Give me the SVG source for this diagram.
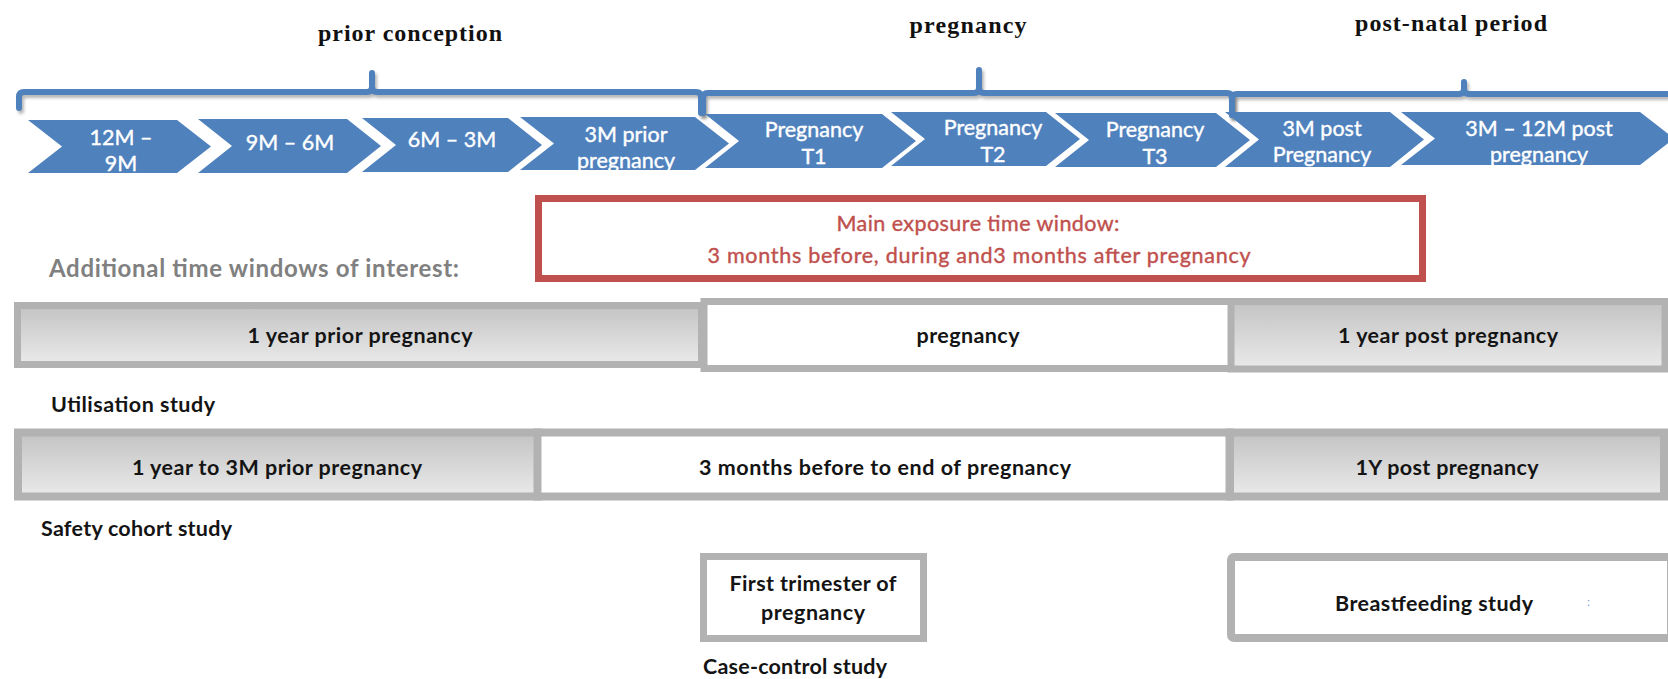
<svg xmlns="http://www.w3.org/2000/svg" width="1668" height="679" viewBox="0 0 1668 679">
<defs>
  <linearGradient id="grayGrad" x1="0" y1="0" x2="0" y2="1">
    <stop offset="0" stop-color="#C3C3C3"/>
    <stop offset="1" stop-color="#EAEAEA"/>
  </linearGradient>
  <filter id="blur" x="-5%" y="-50%" width="110%" height="200%">
    <feGaussianBlur stdDeviation="1.5"/>
  </filter>
  <clipPath id="chevClip">
    <polygon points="0,0 1668,0 1668,166 0,174"/>
  </clipPath>
</defs>
<style>
  .chev{fill:#4F81BD}
  .ct{font-family:Lato,'Liberation Sans',sans-serif;font-size:21.5px;fill:#FFFFFF;stroke:#FFFFFF;stroke-width:0.4;text-anchor:middle}
  .title{font-family:'Liberation Serif',serif;font-weight:bold;font-size:24px;fill:#111111;text-anchor:middle}
  .br{fill:none;stroke:#4F81BD;stroke-width:6;stroke-linecap:round;stroke-linejoin:round}
  .brs{fill:none;stroke:#000000;stroke-opacity:0.28;stroke-width:6;stroke-linecap:round;stroke-linejoin:round;filter:url(#blur)}
  .gbox{fill:url(#grayGrad);stroke:#B2B2B2}
  .wbox{fill:#FFFFFF;stroke:#B2B2B2}
  .bt{font-family:Lato,'Liberation Sans',sans-serif;font-weight:bold;font-size:21.5px;fill:#141414;text-anchor:middle}
  .lbl{font-family:Lato,'Liberation Sans',sans-serif;font-weight:bold;font-size:21.5px;fill:#141414}
  .red{font-family:Lato,'Liberation Sans',sans-serif;font-size:21.5px;fill:#C0504D;stroke:#C0504D;stroke-width:0.4;text-anchor:middle}
  .gray{font-family:Lato,'Liberation Sans',sans-serif;font-weight:bold;font-size:24px;fill:#808080}
</style>
<rect width="1668" height="679" fill="#FFFFFF"/>

<!-- titles -->
<g id="title-prior">
  <text class="title" x="410" y="41" textLength="184">prior conception</text>
</g>
<g id="title-pregnancy">
  <text class="title" x="968" y="33" textLength="117">pregnancy</text>
</g>
<g id="title-postnatal">
  <text class="title" x="1451" y="31" textLength="192">post-natal period</text>
</g>

<!-- brackets -->
<g id="brackets">
  <path class="brs" d="M21,111 V100 Q21,95 26,95 H369 Q374,95 374,90 V76 M374,90 Q374,95 379,95 H698 Q703,95 703,100 V116"/>
  <path class="brs" d="M705,116 V101 Q705,96 710,96 H976 Q981,96 981,91 V73 M981,91 Q981,96 986,96 H1229 Q1234,96 1234,101 V118"/>
  <path class="brs" d="M1234,118 V102 Q1234,97 1239,97 H1461 Q1466,97 1466,92 V85 M1466,92 Q1466,97 1471,97 H1670"/>
  <path class="br" d="M19,108 V97 Q19,92 24,92 H367 Q372,92 372,87 V73 M372,87 Q372,92 377,92 H696 Q701,92 701,97 V113"/>
  <path class="br" d="M703,113 V98 Q703,93 708,93 H974 Q979,93 979,88 V70 M979,88 Q979,93 984,93 H1227 Q1232,93 1232,98 V115"/>
  <path class="br" d="M1232,115 V99 Q1232,94 1237,94 H1459 Q1464,94 1464,89 V82 M1464,89 Q1464,94 1469,94 H1670"/>
</g>

<!-- chevrons -->
<g id="chev-1">
  <polygon class="chev" points="28,120 177,120 211,146.5 177,173 28,173 62,146.5"/>
  <g clip-path="url(#chevClip)"><text class="ct" x="121" y="145">12M –</text><text class="ct" x="121" y="171">9M</text></g>
</g>
<g id="chev-2">
  <polygon class="chev" points="198,119 347,119 381,146 347,173 198,173 232,146"/>
  <text class="ct" x="290" y="150">9M – 6M</text>
</g>
<g id="chev-3">
  <polygon class="chev" points="362,118 508,118 542,145 508,172 362,172 396,145"/>
  <text class="ct" x="452" y="147">6M – 3M</text>
</g>
<g id="chev-4">
  <polygon class="chev" points="520,117 695,117 729,143.5 695,170 520,170 554,143.5"/>
  <g clip-path="url(#chevClip)"><text class="ct" x="626" y="142">3M prior</text><text class="ct" x="626" y="168">pregnancy</text></g>
</g>
<g id="chev-5">
  <polygon class="chev" points="705,114 882,114 916,141 882,168 705,168 739,141"/>
  <g clip-path="url(#chevClip)"><text class="ct" x="814" y="137">Pregnancy</text><text class="ct" x="814" y="164">T1</text></g>
</g>
<g id="chev-6">
  <polygon class="chev" points="891,112 1046,112 1080,139 1046,166 891,166 925,139"/>
  <g clip-path="url(#chevClip)"><text class="ct" x="993" y="135">Pregnancy</text><text class="ct" x="993" y="162">T2</text></g>
</g>
<g id="chev-7">
  <polygon class="chev" points="1055,113 1216,113 1250,140 1216,167 1055,167 1089,140"/>
  <g clip-path="url(#chevClip)"><text class="ct" x="1155" y="137">Pregnancy</text><text class="ct" x="1155" y="164">T3</text></g>
</g>
<g id="chev-8">
  <polygon class="chev" points="1225,112 1390,112 1424,139.5 1390,167 1225,167 1259,139.5"/>
  <g clip-path="url(#chevClip)"><text class="ct" x="1322" y="136">3M post</text><text class="ct" x="1322" y="162">Pregnancy</text></g>
</g>
<g id="chev-9">
  <polygon class="chev" points="1401,112 1640,112 1674,138.5 1640,165 1401,165 1435,138.5"/>
  <g clip-path="url(#chevClip)"><text class="ct" x="1539" y="136">3M – 12M post</text><text class="ct" x="1539" y="162">pregnancy</text></g>
</g>

<!-- main exposure window -->
<g id="main-window">
  <rect x="538.5" y="198.5" width="884" height="80" fill="#FFFFFF" stroke="#C0504D" stroke-width="7"/>
  <text class="red" x="978" y="231" textLength="283">Main exposure time window:</text>
  <text class="red" x="979" y="263" textLength="543">3 months before, during and3 months after pregnancy</text>
</g>

<g id="additional-label">
  <text class="gray" x="49" y="277" textLength="410">Additional time windows of interest:</text>
</g>

<!-- utilisation row -->
<g id="util-prior">
  <rect class="gbox" x="17.5" y="305.5" width="684" height="59" stroke-width="7"/>
  <text class="bt" x="360" y="343" textLength="225">1 year prior pregnancy</text>
</g>
<g id="util-pregnancy">
  <rect class="wbox" x="704" y="301.5" width="528" height="67" stroke-width="7"/>
  <text class="bt" x="968" y="343" textLength="103">pregnancy</text>
</g>
<g id="util-post">
  <rect class="gbox" x="1231" y="301.5" width="434" height="67.5" stroke-width="7"/>
  <text class="bt" x="1448" y="343" textLength="220">1 year post pregnancy</text>
</g>
<g id="util-label">
  <text class="lbl" x="51" y="412" textLength="164">Utilisation study</text>
</g>

<!-- safety cohort row -->
<g id="safety-prior">
  <rect class="gbox" x="18" y="432.5" width="520" height="64" stroke-width="8"/>
  <text class="bt" x="277" y="475" textLength="290">1 year to 3M prior pregnancy</text>
</g>
<g id="safety-pregnancy">
  <rect class="wbox" x="537.5" y="432.5" width="692" height="64" stroke-width="8"/>
  <text class="bt" x="885" y="475" textLength="372">3 months before to end of pregnancy</text>
</g>
<g id="safety-post">
  <rect class="gbox" x="1230" y="432.5" width="434" height="64" stroke-width="8"/>
  <text class="bt" x="1447" y="475" textLength="183">1Y post pregnancy</text>
</g>
<g id="safety-label">
  <text class="lbl" x="41" y="536" textLength="191">Safety cohort study</text>
</g>

<!-- case-control -->
<g id="case-control">
  <rect class="wbox" x="703.5" y="556.5" width="220" height="82" stroke-width="7"/>
  <text class="bt" x="813" y="591" textLength="167">First trimester of</text>
  <text class="bt" x="813" y="620" textLength="104">pregnancy</text>
</g>
<g id="case-control-label">
  <text class="lbl" x="703" y="674" textLength="184">Case-control study</text>
</g>

<!-- breastfeeding -->
<g id="breastfeeding">
  <rect class="wbox" x="1231" y="557" width="440" height="81" rx="3" stroke-width="8"/>
  <text class="bt" x="1434" y="611" textLength="198">Breastfeeding study</text>
  <text x="1587" y="606" font-family="Lato,'Liberation Sans',sans-serif" font-size="12" fill="#8CA6CC">:</text>
</g>
</svg>
